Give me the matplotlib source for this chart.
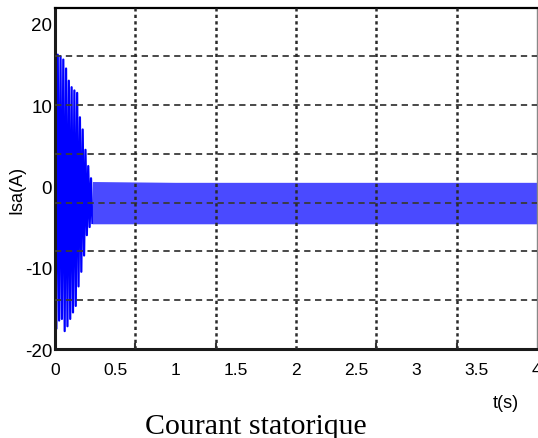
import matplotlib
matplotlib.use("Agg")
import matplotlib.pyplot as plt

# Stator current Isa(A) vs t(s)
# transient part: alternating peaks (max/min) of the oscillation
peak_t = [0.000, 0.0115, 0.023, 0.0345, 0.046, 0.0575, 0.069, 0.0805,
          0.092, 0.1035, 0.115, 0.1265, 0.138, 0.1495, 0.161, 0.1725,
          0.184, 0.1955, 0.207, 0.2185, 0.230, 0.2415, 0.253, 0.2645,
          0.276, 0.2875, 0.299, 0.3105]
peak_i = [18.0, -17.5, 16.2, -16.5, 16.0, -16.3, 15.6, -17.8,
          14.5, -17.2, 13.0, -16.3, 12.2, -15.5, 11.8, -14.7,
          11.5, -12.3, 8.5, -10.5, 7.0, -8.5, 4.5, -6.0,
          2.5, -5.0, 1.0, -4.5]

# steady state: the oscillation fills a band between these edges
band_t = [0.3105, 1.0, 2.0, 3.0, 4.0]
band_hi = [0.6, 0.5, 0.5, 0.5, 0.5]
band_lo = [-4.6, -4.6, -4.6, -4.6, -4.6]

x_ticks = [0, 0.5, 1, 1.5, 2, 2.5, 3, 3.5, 4]
x_labels = ["0", "0.5", "1", "1.5", "2", "2.5", "3", "3.5", "4"]
y_ticks = [-20, -10, 0, 10, 20]
y_labels = ["-20", "-10", "0", "10", "20"]

# the dashed grid does not sit on the tick labels
grid_t = [2 / 3, 4 / 3, 2.0, 8 / 3, 10 / 3]
grid_i = [-14, -8, -2, 4, 10, 16]

plt.rcParams['font.family'] = ['Liberation Sans', 'DejaVu Sans']

fig = plt.figure(figsize=(5.38, 4.39), dpi=100)
ax = fig.add_axes([0.1022, 0.2027, 0.8958, 0.7779])

blue = (0, 0, 1)
ax.plot(peak_t, peak_i, color=blue, lw=1.6, zorder=2)
ax.fill_between(band_t, band_lo, band_hi, color="#4a4aff", lw=0, zorder=2)

# grid
for v in grid_i:
    ax.axhline(v, color="#3a3a3a", lw=1.3, ls=(0, (3.5, 2.5)), zorder=3)
for v in grid_t:
    ax.axvline(v, color="#2a2a2a", lw=1.8, ls=(0, (1.3, 1.3)), zorder=3)

ax.set_xlim(0, 4)
ax.set_ylim(-20, 22)
ax.set_xticks(x_ticks)
ax.set_xticklabels(x_labels, fontsize=12.5)
ax.set_yticks(y_ticks)
ax.set_yticklabels(y_labels, fontsize=13.5)
ax.set_xticks(grid_t, minor=True)
ax.tick_params(which="major", length=0)
ax.tick_params(axis="x", which="major", pad=9)
ax.tick_params(axis="y", which="major", pad=2)
ax.tick_params(axis="x", which="minor", direction="in", length=4, width=1.5, color="#333333")

for side in ["left", "bottom"]:
    ax.spines[side].set_linewidth(2.2)
    ax.spines[side].set_color("#1a1a1a")
ax.spines["top"].set_linewidth(1.6)
ax.spines["top"].set_color("black")
ax.spines["right"].set_linewidth(1.0)
ax.spines["right"].set_color("#888888")

fig.text(0.032, 0.567, "Isa(A)", rotation=90, fontsize=13, ha="center", va="center")
fig.text(0.94, 0.08, "t(s)", fontsize=13, ha="center", va="center")
fig.text(0.476, 0.027, "Courant statorique", fontsize=21.5, ha="center", va="center",
         family=["Liberation Serif", "DejaVu Serif"])

fig.savefig("out.png", dpi=100)
